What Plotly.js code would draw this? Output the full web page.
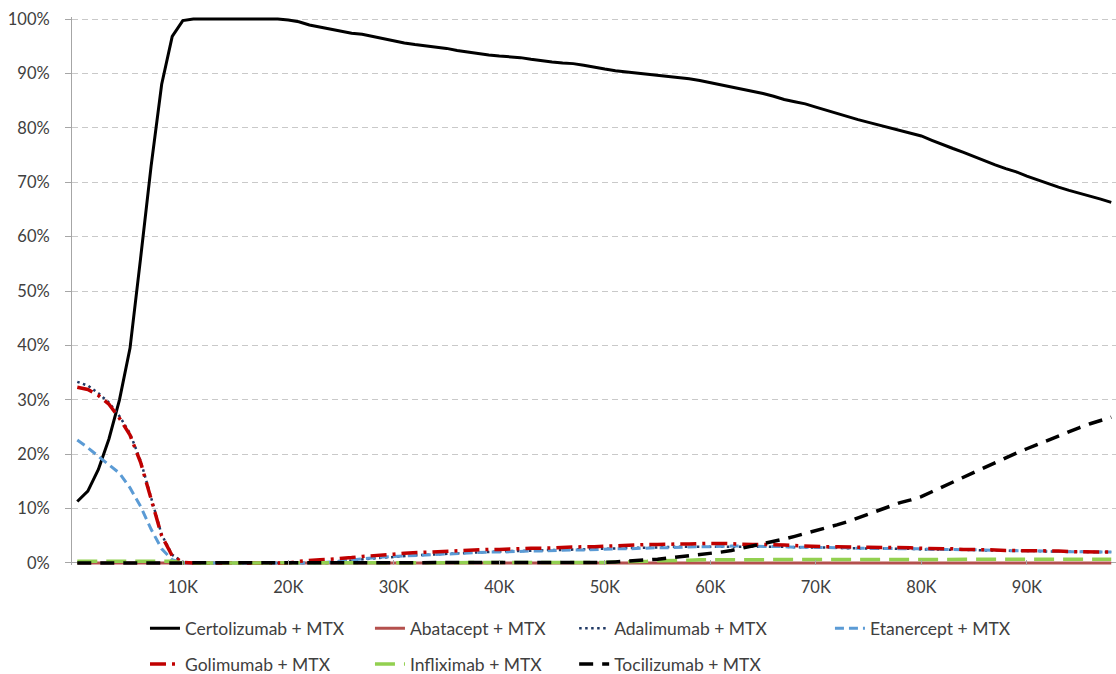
<!DOCTYPE html>
<html><head><meta charset="utf-8">
<script src="https://cdn.plot.ly/plotly-3.0.1.min.js"></script>
<style>html,body{margin:0;padding:0;background:#fff}#c{width:1116px;height:674px}</style>
</head><body><div id="c"></div>
<script>
// Willingness-to-pay categories (0K .. 98K)
const wtp = [0,1000,2000,3000,4000,5000,6000,7000,8000,9000,10000,11000,12000,13000,14000,15000,16000,17000,18000,19000,
20000,21000,22000,23000,24000,25000,26000,27000,28000,29000,30000,31000,32000,33000,34000,35000,36000,37000,38000,39000,
40000,41000,42000,43000,44000,45000,46000,47000,48000,49000,50000,51000,52000,53000,54000,55000,56000,57000,58000,59000,
60000,61000,62000,63000,64000,65000,66000,67000,68000,69000,70000,71000,72000,73000,74000,75000,76000,77000,78000,79000,
80000,81000,82000,83000,84000,85000,86000,87000,88000,89000,90000,91000,92000,93000,94000,95000,96000,97000,98000];

const certolizumab = [11.3,13.2,17.2,22.8,30.0,39.5,56,73,88,96.8,99.7,100,100,100,100,100,100,100,100,100,
99.8,99.5,98.9,98.5,98.2,97.7,97.4,97.2,96.8,96.3,95.9,95.6,95.3,95.1,94.9,94.6,94.2,93.9,93.6,93.4,
93.2,93.1,92.9,92.6,92.3,92.1,91.9,91.8,91.5,91.1,90.8,90.5,90.3,90.1,89.9,89.6,89.4,89.2,89.0,88.7,
88.3,87.9,87.6,87.2,86.8,86.3,85.8,85.2,84.8,84.4,83.8,83.2,82.6,82.0,81.5,81.0,80.5,80.0,79.5,79.1,
78.5,77.7,76.9,76.2,75.5,74.7,73.9,73.2,72.5,71.9,71.1,70.4,69.7,69.1,68.5,68.0,67.4,66.9,66.3];

const abatacept = [0,0,0,0,0,0,0,0,0,0,0,0,0,0,0,0,0,0,0,0,
0,0,0,0,0,0,0,0,0,0,0,0,0,0,0,0,0,0,0,0,
0,0,0,0,0,0,0,0,0,0,0,0,0,0,0,0,0,0,0,0,
0,0,0,0,0,0,0,0,0,0,0,0,0,0,0,0,0,0,0,0,
0,0,0,0,0,0,0,0,0,0,0,0,0,0,0,0,0,0,0];

const adalimumab = [33.3,32.6,31.2,29.5,27.0,23.8,18.8,11.8,5.2,1.5,0.2,0,0,0,0,0,0,0,0,0,
0,0,0,0,0,0.3,0.5,0.7,0.8,1.0,1.1,1.3,1.4,1.5,1.6,1.7,1.8,1.9,2.0,2.0,
2.1,2.2,2.2,2.3,2.3,2.4,2.4,2.5,2.5,2.6,2.6,2.7,2.7,2.8,2.8,2.9,2.9,3.0,3.0,3.0,
3.1,3.1,3.1,3.1,3.1,3.0,3.0,3.0,2.9,2.9,2.8,2.8,2.8,2.7,2.7,2.7,2.7,2.6,2.6,2.6,
2.5,2.5,2.5,2.4,2.4,2.4,2.3,2.3,2.3,2.2,2.2,2.2,2.1,2.1,2.1,2.0,2.0,2.0,2.0];

const etanercept = [22.6,21.2,19.6,18.0,16.5,13.8,10.4,6.2,2.6,0.6,0,0,0,0,0,0,0,0,0,0,
0,0,0,0,0.2,0.4,0.6,0.8,0.9,1.1,1.2,1.3,1.4,1.5,1.6,1.7,1.8,1.9,1.9,2.0,
2.0,2.1,2.1,2.2,2.2,2.3,2.3,2.4,2.4,2.5,2.5,2.6,2.6,2.7,2.7,2.8,2.8,2.9,2.9,3.0,
3.0,3.1,3.1,3.1,3.1,3.0,3.0,3.0,2.9,2.9,2.9,2.8,2.8,2.8,2.7,2.7,2.7,2.7,2.6,2.6,
2.6,2.5,2.5,2.5,2.4,2.4,2.4,2.3,2.3,2.3,2.2,2.2,2.2,2.1,2.1,2.1,2.0,2.0,2.0];

const golimumab = [32.3,31.9,30.8,29.2,26.6,23.5,18.5,11.5,5.0,1.3,0.1,0,0,0,0,0,0,0,0,0,
0,0.3,0.5,0.6,0.7,0.8,1.0,1.2,1.3,1.5,1.6,1.8,1.9,2.0,2.1,2.2,2.2,2.3,2.4,2.5,
2.5,2.6,2.6,2.7,2.7,2.8,2.8,2.9,3.0,3.0,3.1,3.2,3.2,3.3,3.4,3.4,3.5,3.5,3.5,3.6,
3.6,3.6,3.5,3.5,3.4,3.4,3.4,3.3,3.2,3.1,3.0,3.0,3.0,2.9,2.9,2.9,2.9,2.9,2.8,2.8,
2.7,2.7,2.6,2.6,2.5,2.5,2.4,2.4,2.3,2.3,2.3,2.2,2.2,2.2,2.1,2.1,2.1,2.0,2.0];

const infliximab = [0.3,0.3,0.3,0.3,0.3,0.3,0.3,0.3,0.3,0.3,0,0,0,0,0,0,0,0,0,0,
0,0,0,0,0,0,0,0,0,0,0,0,0,0,0,0,0,0,0,0,
0,0,0,0,0,0,0,0,0,0,0.1,0.2,0.2,0.3,0.3,0.4,0.4,0.5,0.5,0.6,
0.6,0.6,0.6,0.6,0.6,0.6,0.6,0.7,0.7,0.7,0.7,0.7,0.7,0.7,0.7,0.7,0.7,0.7,0.7,0.7,
0.7,0.7,0.7,0.7,0.7,0.7,0.7,0.7,0.7,0.7,0.7,0.7,0.7,0.7,0.7,0.7,0.7,0.7,0.7];

const tocilizumab = [0,0,0,0,0,0,0,0,0,0,0,0,0,0,0,0,0,0,0,0,
0,0,0,0,0,0,0,0,0,0,0,0,0,0,0,0,0,0,0,0,
0,0,0,0,0,0,0,0,0,0,0.1,0.2,0.3,0.4,0.5,0.7,0.9,1.1,1.3,1.5,
1.7,2.0,2.3,2.7,3.1,3.5,3.9,4.4,4.9,5.4,5.9,6.4,7.0,7.6,8.3,9.0,9.7,10.4,11.1,11.6,
12.2,13.1,14.0,14.9,15.8,16.7,17.6,18.5,19.4,20.2,21.0,21.8,22.6,23.4,24.2,24.9,25.6,26.2,26.8];

const xTickVals = [10000,20000,30000,40000,50000,60000,70000,80000,90000];
const xTickText = ['10K','20K','30K','40K','50K','60K','70K','80K','90K'];
const yTickVals = [0,10,20,30,40,50,60,70,80,90,100];
const yTickText = ['0%','10%','20%','30%','40%','50%','60%','70%','80%','90%','100%'];

const seriesNames = ['Certolizumab + MTX','Abatacept + MTX','Adalimumab + MTX','Etanercept + MTX',
                     'Golimumab + MTX','Infliximab + MTX','Tocilizumab + MTX'];

function tr(name, y, color, width, dash, legend, group) {
  return {x: wtp, y: y, name: name, type: 'scatter', mode: 'lines',
          line: {color: color, width: width, dash: dash},
          legend: legend, legendgroup: group, hoverinfo: 'skip'};
}

const traces = [
  tr(seriesNames[0], certolizumab, '#000000', 3, 'solid', 'legend', 'a'),
  tr(seriesNames[1], abatacept, '#B4504D', 3, 'solid', 'legend2', 'a'),
  tr(seriesNames[2], adalimumab, '#1F3864', 2.5, '2.5px,3.5px', 'legend3', 'a'),
  tr(seriesNames[3], etanercept, '#5B9BD5', 3, '9px,5px', 'legend4', 'a'),
  tr(seriesNames[4], golimumab, '#C00000', 3.5, '16px,6px,3px,6px', 'legend', 'b'),
  tr(seriesNames[5], infliximab, '#92D050', 3.5, '20px,9px', 'legend2', 'b'),
  tr(seriesNames[6], tocilizumab, '#000000', 3.5, '14px,9px', 'legend3', 'b')
];

const FONT = 'Lato, "Open Sans", sans-serif';
const TXT = '#404040';
function leg(x) {
  return {x: x, xanchor: 'left', y: -0.083, yanchor: 'top', orientation: 'v',
          bgcolor: 'rgba(0,0,0,0)', borderwidth: 0, tracegroupgap: 10,
          font: {family: FONT, size: 17.5, color: TXT}};
}

const layout = {
  width: 1116, height: 674,
  margin: {l: 72, r: 0, t: 17, b: 109, autoexpand: false},
  paper_bgcolor: '#ffffff', plot_bgcolor: '#ffffff',
  font: {family: FONT, size: 16, color: TXT},
  showlegend: true,
  xaxis: {
    type: 'linear', range: [-500, 98450],
    tickmode: 'array', tickvals: xTickVals, ticktext: xTickText,
    ticks: 'inside', ticklen: 5, tickcolor: '#A6A6A6',
    showgrid: false, zeroline: false, showline: false,
    ticklabelstandoff: 10,
    tickfont: {family: FONT, size: 16.5, color: TXT}
  },
  yaxis: {
    range: [-0.37, 100.37],
    tickmode: 'array', tickvals: yTickVals, ticktext: yTickText,
    ticks: 'outside', ticklen: 6, tickcolor: '#A6A6A6',
    showgrid: true, gridcolor: '#C9C9C9', gridwidth: 1, griddash: '6px,4px',
    zeroline: true, zerolinecolor: '#A6A6A6', zerolinewidth: 1,
    showline: true, linecolor: '#A6A6A6', linewidth: 1,
    ticklabelstandoff: 12,
    tickfont: {family: FONT, size: 16.5, color: TXT}
  },
  legend: leg(0.0699),
  legend2: leg(0.2854),
  legend3: leg(0.481),
  legend4: leg(0.726)
};

Plotly.newPlot('c', traces, layout, {displayModeBar: false, staticPlot: true});
</script>
</body></html>
